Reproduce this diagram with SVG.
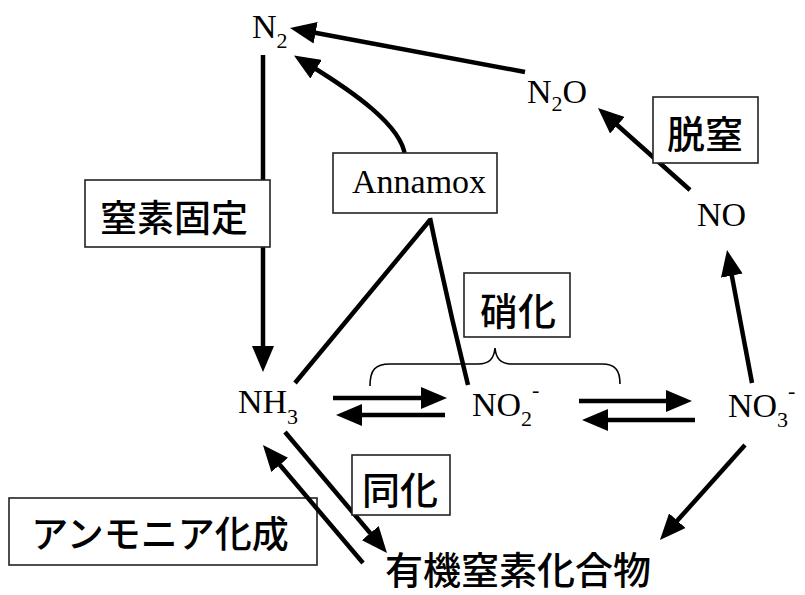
<svg xmlns="http://www.w3.org/2000/svg" width="805" height="595" viewBox="0 0 805 595">
<style>
.f{font-family:"Liberation Serif","Times New Roman",serif;font-size:34px;fill:#000}
.j{font-family:"Noto Sans CJK JP","Noto Sans",sans-serif;font-size:38px;font-weight:500;fill:#000;text-anchor:middle;dominant-baseline:central}
.box{fill:#fff;stroke:#222;stroke-width:1.6}
.c{fill:none;stroke:#000;stroke-width:4.5}
.a{marker-end:url(#ah)}
</style>
<defs>
<marker id="ah" viewBox="0 0 26 22" refX="6" refY="11" markerWidth="26" markerHeight="22" markerUnits="userSpaceOnUse" orient="auto">
<path d="M0,0 L26,11 L0,22 Z" fill="#000"/>
</marker>
</defs>
<rect width="805" height="595" fill="#fff"/>
<g id="node-ammonification">
<rect class="box" x="9" y="498" width="308" height="67"/>
<text class="j" x="160" y="532" style="font-size:37px">アンモニア化成</text>
</g>
<g id="connectors">
<path class="c a" d="M525,72 L309.7,31.7"/>
<path class="c a" d="M405,156 C402,125 350,90 311,66"/>
<path class="c a" d="M263,55 L263,352"/>
<path class="c" d="M430,220 L295,383"/>
<path class="c" d="M430,218 Q447,300 468,385"/>
<path class="c a" d="M333,398 L427,398"/>
<path class="c a" d="M445,415 L356,415"/>
<path class="c a" d="M579,401 L672,401"/>
<path class="c a" d="M695,420 L602,420"/>
<path class="c a" d="M752,383 L730.7,269.7"/>
<path class="c a" d="M690,190 L612.9,121.3"/>
<path class="c a" d="M745,445 L673.3,525.1"/>
<path class="c a" d="M285,432 L374.1,537.7"/>
<path class="c a" d="M363,563 L275.9,460.3"/>
<path d="M370,386 C370,370 375,364 390,364 L478,364 C490,364 494,358 495,348 C496,358 500,364 512,364 L602,364 C615,364 620,370 620,384" fill="none" stroke="#000" stroke-width="1.6"/>
</g>
<g id="node-N2"><text class="f" x="252" y="38">N<tspan font-size="22" dy="10">2</tspan></text></g>
<g id="node-N2O"><text class="f" x="527" y="103">N<tspan font-size="22" dy="8">2</tspan><tspan dy="-8">O</tspan></text></g>
<g id="node-NO"><text class="f" x="697" y="226">NO</text></g>
<g id="node-NH3"><text class="f" x="238" y="413">NH<tspan font-size="22" dy="11">3</tspan></text></g>
<g id="node-NO2"><text class="f" x="472" y="416">NO<tspan font-size="22" dy="10">2</tspan><tspan font-size="22" dy="-29">-</tspan></text></g>
<g id="node-NO3"><text class="f" x="728" y="417">NO<tspan font-size="22" dy="10">3</tspan><tspan font-size="22" dy="-29">-</tspan></text></g>
<g id="node-annamox">
<rect class="box" x="333" y="153" width="164" height="60"/>
<text class="f" x="352" y="193">Annamox</text>
</g>
<g id="node-fixation">
<rect class="box" x="85" y="180" width="185" height="67"/>
<text class="j" x="174" y="216" style="font-size:37px">窒素固定</text>
</g>
<g id="node-nitrification">
<rect class="box" x="464" y="273" width="106" height="64"/>
<text class="j" x="518" y="308">硝化</text>
</g>
<g id="node-denitrification">
<rect class="box" x="653" y="97" width="105" height="66"/>
<text class="j" x="705" y="131">脱窒</text>
</g>
<g id="node-assimilation">
<rect class="box" x="352" y="455" width="98" height="60"/>
<text class="j" x="400" y="487">同化</text>
</g>
<g id="node-organic">
<text class="j" x="518" y="567">有機窒素化合物</text>
</g>
</svg>
